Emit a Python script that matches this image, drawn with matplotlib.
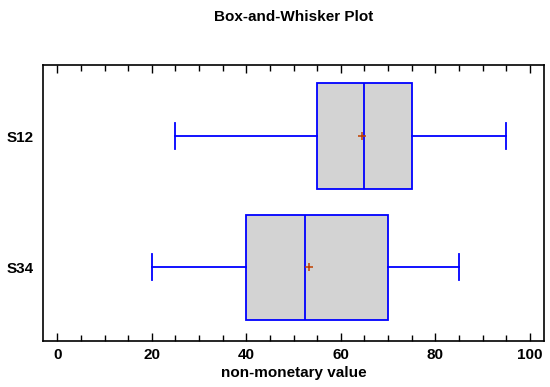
import matplotlib
matplotlib.use("Agg")
import matplotlib.pyplot as plt
from matplotlib.ticker import MultipleLocator

plt.rcParams['font.family'] = ['Liberation Sans', 'DejaVu Sans']
plt.rcParams['font.weight'] = 'bold'

categories = ["S12", "S34"]
whislo = [25, 20]
q1 = [55, 40]
med = [65, 52.5]
q3 = [75, 70]
whishi = [95, 85]
means = [64.5, 53.3]

stats = []
for i, c in enumerate(categories):
    stats.append(dict(label=c, whislo=whislo[i], q1=q1[i], med=med[i],
                      q3=q3[i], whishi=whishi[i], mean=means[i], fliers=[]))

fig = plt.figure(figsize=(5.5, 3.87), dpi=100)
ax = fig.add_axes([0.0787, 0.1196, 0.9103, 0.7132])

blue = '#0000FF'
lw = 1.3
positions = [2, 1]
ax.bxp(stats, positions=positions, vert=False, widths=0.8, capwidths=0.2,
       patch_artist=True, showmeans=True, showfliers=False,
       boxprops=dict(facecolor='#D3D3D3', edgecolor=blue, linewidth=lw),
       medianprops=dict(color=blue, linewidth=lw),
       whiskerprops=dict(color=blue, linewidth=lw),
       capprops=dict(color=blue, linewidth=lw),
       meanprops=dict(marker='+', markeredgecolor='#C04000', markersize=6,
                      markeredgewidth=1.1, linestyle='none'))

ax.set_xlim(-2.96, 103)
ax.set_ylim(0.441, 2.543)
ax.xaxis.set_major_locator(MultipleLocator(20))
ax.xaxis.set_minor_locator(MultipleLocator(5))
ax.tick_params(axis='x', which='major', direction='in', top=True, bottom=True,
               length=6, width=1, labelsize=11, pad=5)
ax.tick_params(axis='x', which='minor', direction='in', top=True, bottom=True,
               length=4, width=1)
ax.tick_params(axis='y', which='both', length=0, labelsize=11, pad=7)
ax.set_yticks(positions)
ax.set_yticklabels(categories, fontweight='bold')
for lab in ax.get_xticklabels():
    lab.set_fontweight('bold')
for s in ax.spines.values():
    s.set_linewidth(1.2)
    s.set_color('black')

ax.set_xlabel("non-monetary value", fontsize=11, fontweight='bold', labelpad=3)
fig.text(0.0787 + 0.9103 / 2, 1 - 17 / 387, "Box-and-Whisker Plot",
         ha='center', va='center', fontsize=11, fontweight='bold')

fig.savefig("out.png", dpi=100)
